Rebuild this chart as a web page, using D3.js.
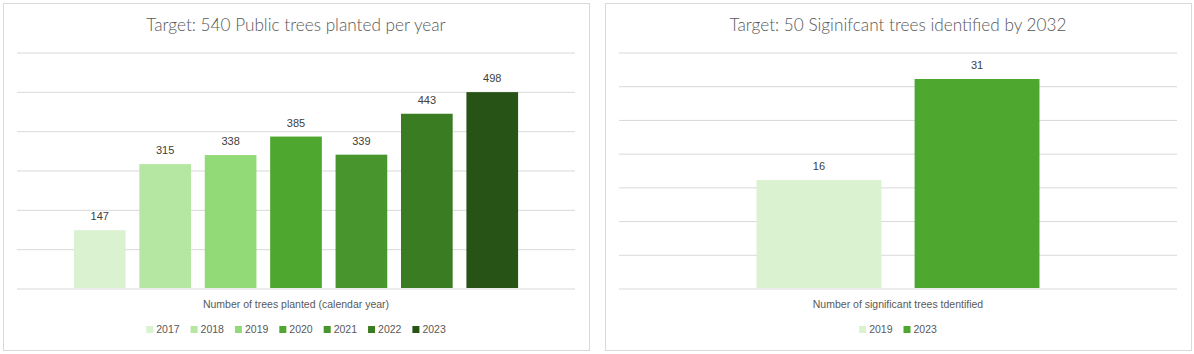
<!DOCTYPE html>
<html>
<head>
<meta charset="utf-8">
<script src="https://cdn.jsdelivr.net/npm/d3@7"></script>
<style>
  html, body { margin: 0; padding: 0; background: #fff; }
  svg { display: block; }
  .title { font-family: Lato, "Open Sans", sans-serif; font-weight: 300; font-size: 17.2px; fill: #595959; }
  .label { font-family: "Liberation Sans", Arial, sans-serif; font-size: 11px; fill: #404040; }
  .axis-title, .legend text { font-family: "Liberation Sans", Arial, sans-serif; font-size: 10.5px; fill: #595959; }
</style>
</head>
<body>
<div id="container"></div>
<script>
/* DATA */
const plantedYears = ["2017", "2018", "2019", "2020", "2021", "2022", "2023"]
const plantedValues = [147, 315, 338, 385, 339, 443, 498]
const plantedTicks = [0, 100, 200, 300, 400, 500, 600]

const significantYears = ["2019", "2023"]
const significantValues = [16, 31]
const significantTicks = [0, 5, 10, 15, 20, 25, 30, 35]

/* CONSTANTS */
const width = 1194, height = 354
const colors = {
  "2017": "#DAF2D0", "2018": "#B5E6A2", "2019": "#92DA77", "2020": "#4EA72E",
  "2021": "#47952C", "2022": "#3A7C22", "2023": "#275317"
}
const grid = "#D9D9D9"

const svg = d3.select("#container")
  .append("svg")
  .attr("width", width)
  .attr("height", height)

function drawChart(opts) {
  const { x0, x1, title, axisTitle, years, values, ticks, palette } = opts
  const panel = { top: 3, bottom: 350 }
  const plot = { left: x0 + 14, right: x1 - 14, top: 52, bottom: 288 }

  const g = svg.append("g")

  // panel frame
  g.append("rect")
    .attr("x", x0 + 0.5).attr("y", panel.top + 0.5)
    .attr("width", x1 - x0).attr("height", panel.bottom - panel.top)
    .attr("fill", "#fff").attr("stroke", grid)

  const xScale = d3.scaleBand()
    .domain(years)
    .range([plot.left, plot.right])
    .paddingInner(0.21)
    .paddingOuter(0.87)

  const yScale = d3.scaleLinear()
    .domain([0, d3.max(ticks)])
    .range([plot.bottom, plot.top])

  // gridlines
  const yAxis = d3.axisLeft(yScale)
    .tickValues(ticks)
    .tickSize(-(plot.right - plot.left))
    .tickFormat("")
  g.append("g")
    .attr("transform", `translate(${plot.left},0)`)
    .call(yAxis)
    .call(a => a.select(".domain").remove())
    .call(a => a.selectAll("line").attr("stroke", grid).attr("stroke-width", 1)
      .attr("transform", "translate(0,0.5)"))

  // bars
  const rows = years.map((y, i) => ({ year: y, value: values[i] }))
  g.selectAll(".bar")
    .data(rows)
    .join("rect")
    .attr("class", "bar")
    .attr("x", d => xScale(d.year))
    .attr("y", d => yScale(d.value))
    .attr("width", xScale.bandwidth())
    .attr("height", d => yScale(0) - yScale(d.value))
    .attr("fill", d => palette[d.year])

  // value labels
  g.selectAll(".label")
    .data(rows)
    .join("text")
    .attr("class", "label")
    .attr("x", d => xScale(d.year) + xScale.bandwidth() / 2)
    .attr("y", d => yScale(d.value) - 10)
    .attr("text-anchor", "middle")
    .text(d => d.value)

  // title
  g.append("text")
    .attr("class", "title")
    .attr("x", (x0 + x1) / 2)
    .attr("y", 31)
    .attr("text-anchor", "middle")
    .text(title)

  // category axis title
  g.append("text")
    .attr("class", "axis-title")
    .attr("x", (plot.left + plot.right) / 2)
    .attr("y", 308)
    .attr("text-anchor", "middle")
    .text(axisTitle)

  // legend
  const legend = g.append("g").attr("class", "legend")
  const items = legend.selectAll("g")
    .data(years)
    .join("g")
  items.append("rect")
    .attr("width", 7).attr("height", 7)
    .attr("y", -7)
    .attr("fill", d => palette[d])
  items.append("text")
    .attr("x", 10)
    .text(d => d)
  let offset = 0
  items.each(function () {
    const w = d3.select(this).select("text").node().getComputedTextLength()
    d3.select(this).attr("transform", `translate(${offset},0)`)
    offset += 10 + w + 11
  })
  const total = offset - 11
  legend.attr("transform", `translate(${(plot.left + plot.right) / 2 - total / 2},333)`)
}

drawChart({
  x0: 3, x1: 589,
  title: "Target: 540 Public trees planted per year",
  axisTitle: "Number of trees planted (calendar year)",
  years: plantedYears, values: plantedValues, ticks: plantedTicks,
  palette: colors
})

drawChart({
  x0: 605, x1: 1191,
  title: "Target: 50 Siginifcant trees identified by 2032",
  axisTitle: "Number of significant trees tdentified",
  years: significantYears, values: significantValues, ticks: significantTicks,
  palette: { "2019": "#DAF2D0", "2023": "#4EA72E" }
})
</script>
</body>
</html>
